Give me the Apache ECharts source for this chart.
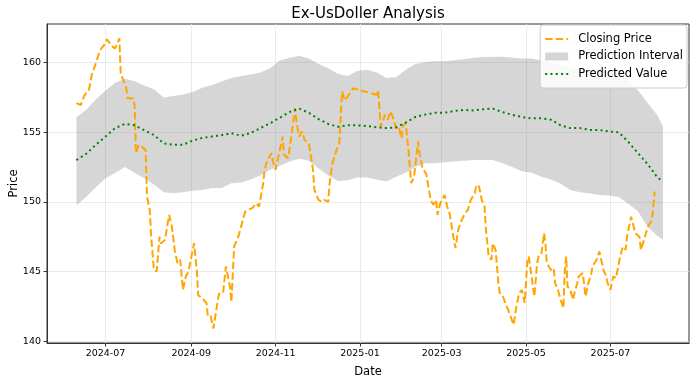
<!DOCTYPE html>
<html>
<head>
<meta charset="utf-8">
<script src="https://cdn.jsdelivr.net/npm/echarts@6/dist/echarts.min.js"></script>
<style>html,body{margin:0;padding:0;background:#fff;}#c{width:700px;height:383px;}</style>
</head>
<body>
<div id="c"></div>
<script>
// Closing price
const closeDates = [
 '2024-06-10','2024-06-13','2024-06-16','2024-06-19','2024-06-21','2024-06-24','2024-06-27','2024-06-30',
 '2024-07-02','2024-07-06','2024-07-08','2024-07-11','2024-07-12','2024-07-16','2024-07-17','2024-07-21','2024-07-22','2024-07-23','2024-07-25','2024-07-27','2024-07-30','2024-07-31',
 '2024-08-02','2024-08-03','2024-08-05','2024-08-07','2024-08-09','2024-08-10','2024-08-13','2024-08-16','2024-08-18','2024-08-20','2024-08-22','2024-08-24','2024-08-26','2024-08-28','2024-08-30',
 '2024-09-03','2024-09-05','2024-09-06','2024-09-09','2024-09-12','2024-09-13','2024-09-15','2024-09-17','2024-09-19','2024-09-21','2024-09-24','2024-09-26','2024-09-29','2024-09-30',
 '2024-10-02','2024-10-05','2024-10-07','2024-10-10','2024-10-12','2024-10-15','2024-10-18','2024-10-20','2024-10-23','2024-10-24','2024-10-26','2024-10-29','2024-10-30',
 '2024-11-01','2024-11-04','2024-11-06','2024-11-07','2024-11-10','2024-11-12','2024-11-15','2024-11-16','2024-11-18','2024-11-20','2024-11-22','2024-11-25','2024-11-28','2024-11-29',
 '2024-12-02','2024-12-04','2024-12-06','2024-12-09','2024-12-10','2024-12-12','2024-12-15','2024-12-17','2024-12-19','2024-12-21','2024-12-23','2024-12-27',
 '2025-01-13','2025-01-14','2025-01-16','2025-01-17','2025-01-19','2025-01-21','2025-01-23','2025-01-25','2025-01-27','2025-01-29','2025-01-31',
 '2025-02-01','2025-02-03','2025-02-05','2025-02-07','2025-02-09','2025-02-12','2025-02-13','2025-02-15','2025-02-18','2025-02-21','2025-02-23','2025-02-25','2025-02-26','2025-02-28',
 '2025-03-03','2025-03-05','2025-03-07','2025-03-09','2025-03-11','2025-03-13','2025-03-15','2025-03-18','2025-03-20','2025-03-22','2025-03-25','2025-03-26','2025-03-28','2025-03-30',
 '2025-04-01','2025-04-02','2025-04-04','2025-04-06','2025-04-07','2025-04-09','2025-04-11','2025-04-12','2025-04-14','2025-04-16','2025-04-19','2025-04-22','2025-04-24','2025-04-26','2025-04-28','2025-04-30',
 '2025-05-02','2025-05-03','2025-05-07','2025-05-09','2025-05-10','2025-05-12','2025-05-14','2025-05-15','2025-05-16','2025-05-19','2025-05-21','2025-05-22','2025-05-24','2025-05-26','2025-05-28','2025-05-29','2025-05-30','2025-05-31',
 '2025-06-02','2025-06-04','2025-06-05','2025-06-07','2025-06-08','2025-06-11','2025-06-13','2025-06-15','2025-06-17','2025-06-18','2025-06-21','2025-06-23','2025-06-26','2025-06-28','2025-06-29',
 '2025-07-01','2025-07-03','2025-07-05','2025-07-08','2025-07-10','2025-07-12','2025-07-13','2025-07-14','2025-07-16','2025-07-19','2025-07-22','2025-07-23','2025-07-26','2025-07-28','2025-07-31',
 '2025-08-02'
];
const closeValues = [
 157.1,156.96,157.68,158.04,159.1,159.96,160.9,161.27,
 161.68,161.15,161.03,161.75,159.24,158.16,157.44,157.44,156.96,153.5,154.1,153.97,153.73,150.38,
 149.4,147.5,145.1,145.0,147.5,147.0,147.27,149.07,148.2,146.55,145.6,145.84,143.68,144.64,145.0,
 147.03,145.1,143.3,143.08,142.73,141.77,141.8,140.9,142.2,143.4,143.45,145.36,143.9,142.8,
 146.8,147.5,148.23,149.3,149.4,149.55,149.9,149.66,151.34,152.3,153.0,153.5,152.9,
 152.3,153.73,154.69,153.4,153.14,154.45,156.73,155.76,154.69,155.05,154.45,154.2,152.3,150.86,
 150.14,150.02,150.14,150.0,151.34,152.78,153.73,154.2,157.92,157.3,157.56,158.16,
 157.7,158.0,155.4,155.65,156.25,155.9,156.5,156.0,155.3,155.4,154.57,
 155.5,155.65,153.73,151.34,151.8,154.33,153.5,152.5,151.94,150.14,149.8,150.14,149.07,149.9,
 150.5,149.66,149.07,147.75,146.68,148.0,148.6,149.19,149.43,150.14,150.62,151.22,151.1,150.14,
 149.66,148.0,146.07,145.84,147.03,146.55,144.16,143.45,143.3,142.73,142.0,141.17,142.48,143.45,143.68,142.73,
 145.84,146.07,143.2,145.6,146.07,146.2,147.75,147.03,145.6,145.1,145.24,144.16,143.68,142.96,142.37,145.1,146.07,143.92,
 143.68,142.96,143.45,144.16,144.64,144.88,143.2,144.16,144.76,145.36,145.84,146.43,145.1,144.64,144.16,
 143.68,144.64,144.52,146.07,146.79,146.55,147.5,148.0,148.94,147.75,147.5,146.55,147.5,148.2,148.7,
 150.74
];

// Prediction (weekly)
const predDates = [
 '2024-06-10','2024-06-17','2024-06-24','2024-07-01','2024-07-08','2024-07-15','2024-07-22','2024-07-29',
 '2024-08-05','2024-08-12','2024-08-19','2024-08-26','2024-09-02','2024-09-09','2024-09-16','2024-09-23','2024-09-30',
 '2024-10-07','2024-10-14','2024-10-21','2024-10-28','2024-11-04','2024-11-11','2024-11-18','2024-11-25',
 '2024-12-02','2024-12-09','2024-12-16','2024-12-23','2024-12-30',
 '2025-01-06','2025-01-13','2025-01-20','2025-01-27','2025-02-03','2025-02-10','2025-02-17','2025-02-24',
 '2025-03-03','2025-03-10','2025-03-17','2025-03-24','2025-03-31','2025-04-07','2025-04-14','2025-04-21','2025-04-28',
 '2025-05-05','2025-05-12','2025-05-19','2025-05-26','2025-06-02','2025-06-09','2025-06-16','2025-06-23','2025-06-30',
 '2025-07-07','2025-07-14','2025-07-21','2025-07-28','2025-08-04','2025-08-08'
];
const predValues = [
 153.0,153.45,154.1,154.7,155.3,155.6,155.5,155.15,
 154.8,154.2,154.1,154.1,154.4,154.6,154.7,154.8,154.93,
 154.75,154.95,155.3,155.65,156.05,156.45,156.7,156.4,
 155.95,155.6,155.4,155.5,155.5,
 155.45,155.35,155.3,155.35,155.7,156.1,156.27,156.4,
 156.4,156.53,156.6,156.57,156.65,156.7,156.45,156.25,156.1,
 156.0,156.0,155.9,155.5,155.3,155.3,155.17,155.17,155.05,
 155.0,154.3,153.5,152.7,151.75,151.46
];
const upperValues = [
 156.1,156.6,157.35,158.0,158.55,158.85,158.66,158.37,
 158.1,157.5,157.6,157.72,157.9,158.2,158.4,158.65,158.9,
 159.05,159.15,159.3,159.6,160.15,160.35,160.5,160.3,
 159.9,159.6,159.2,159.05,159.4,
 159.5,159.3,158.9,158.95,159.5,159.9,160.05,160.1,
 160.1,160.18,160.25,160.35,160.4,160.43,160.43,160.35,160.3,
 160.3,160.15,160.0,159.85,159.7,159.55,159.45,159.36,159.36,
 159.25,158.7,158.0,157.1,156.2,155.4
];
const lowerValues = [
 149.75,150.35,151.05,151.7,152.1,152.5,152.1,151.7,
 151.25,150.7,150.62,150.7,150.8,150.86,151.0,151.0,151.34,
 151.4,151.6,151.9,152.3,152.6,152.9,153.1,152.95,
 152.4,151.9,151.5,151.55,151.75,
 151.75,151.6,151.47,151.8,152.1,152.5,152.78,152.78,
 152.85,152.9,152.95,153.0,153.0,153.0,152.78,152.5,152.2,
 152.1,151.8,151.6,151.3,150.85,150.7,150.6,150.5,150.45,
 150.35,149.85,149.3,148.2,147.55,147.27
];

// Axis ticks
const xTickDates = ['2024-07-01','2024-09-01','2024-11-01','2025-01-01','2025-03-01','2025-05-01','2025-07-01'];
const yTicks = [140, 145, 150, 155, 160];

const P = s => echarts.time.parse(s).getTime();
const xTickVals = xTickDates.map(P);
const font = 'DejaVu Sans';
const fmtMonth = v => { const d = new Date(v); return d.getFullYear() + '-' + String(d.getMonth() + 1).padStart(2, '0'); };

const chart = echarts.init(document.getElementById('c'), null, {renderer: 'canvas'});
chart.setOption({
  animation: false,
  backgroundColor: '#ffffff',
  textStyle: {fontFamily: font},
  title: {
    text: 'Ex-UsDoller Analysis', left: 368, top: 7, textAlign: 'center', padding: 0,
    textStyle: {fontFamily: font, fontSize: 15, fontWeight: 'normal', color: '#000'}
  },
  legend: {
    orient: 'vertical', right: 13, top: 25,
    backgroundColor: 'rgba(255,255,255,0.85)', borderColor: '#cccccc', borderWidth: 1, borderRadius: 3,
    padding: [8, 4, 8, 4], itemGap: 5.5, itemWidth: 23, itemHeight: 8,
    textStyle: {fontFamily: font, fontSize: 11.5, color: '#000', padding: [0, 0, 0, 5]},
    data: [
      {name: 'Closing Price', itemStyle: {opacity: 0}},
      {name: 'Prediction Interval', icon: 'rect', itemStyle: {color: '#d6d6d6'}},
      {name: 'Predicted Value', itemStyle: {opacity: 0}}
    ]
  },
  grid: {left: 47, right: 11, top: 24, bottom: 40, outerBoundsMode: 'none', containLabel: false,
    show: true, borderColor: '#333', borderWidth: 1, backgroundColor: 'transparent'},
  xAxis: {
    type: 'value', min: P('2024-05-19 17:00:00'), max: P('2025-08-26 19:00:00'),
    name: 'Date', nameLocation: 'middle', nameGap: 23,
    nameTextStyle: {fontFamily: font, fontSize: 11.5, color: '#000'},
    axisLine: {lineStyle: {color: '#333', width: 1}},
    axisTick: {customValues: xTickVals, length: 3.5, lineStyle: {color: '#333'}},
    axisLabel: {customValues: xTickVals, fontSize: 9.5, color: '#000', margin: 6, fontFamily: font,
      formatter: fmtMonth},
    splitLine: {show: true, lineStyle: {color: '#e6e6e6', width: 0.8}}
  },
  yAxis: {
    type: 'value', min: 139.86, max: 162.78,
    name: 'Price', nameLocation: 'middle', nameGap: 27, nameMoveOverlap: false,
    nameTextStyle: {fontFamily: font, fontSize: 11.5, color: '#000'},
    axisLine: {show: true, lineStyle: {color: '#333', width: 1}},
    axisTick: {show: true, customValues: yTicks, length: 3.5, lineStyle: {color: '#333'}},
    axisLabel: {customValues: yTicks, fontSize: 9.5, color: '#000', margin: 6, fontFamily: font},
    splitLine: {show: true, lineStyle: {color: '#e6e6e6', width: 0.8}}
  },
  series: [
    {
      name: 'Prediction Interval', type: 'custom', silent: true, z: 1,
      data: predDates.map((d, i) => [P(d), lowerValues[i], upperValues[i]]),
      encode: {x: 0, y: [1, 2]},
      renderItem: (params, api) => {
        if (params.dataIndex !== 0) return null;
        const up = predDates.map((d, i) => api.coord([P(d), upperValues[i]]));
        const lo = predDates.map((d, i) => api.coord([P(d), lowerValues[i]])).reverse();
        return {type: 'polygon', shape: {points: up.concat(lo)}, style: {fill: 'rgba(128,128,128,0.32)'}};
      }
    },
    {
      name: 'Closing Price', type: 'line', symbol: 'none', color: '#FFA500', z: 3,
      lineStyle: {color: '#FFA500', width: 2, type: [7.4, 3.2]},
      data: closeDates.map((d, i) => [P(d), closeValues[i]])
    },
    {
      name: 'Predicted Value', type: 'line', symbol: 'none', color: '#008000', z: 4,
      lineStyle: {color: '#008000', width: 2, type: [2, 3.3]},
      data: predDates.map((d, i) => [P(d), predValues[i]])
    }
  ]
});
</script>
</body>
</html>
